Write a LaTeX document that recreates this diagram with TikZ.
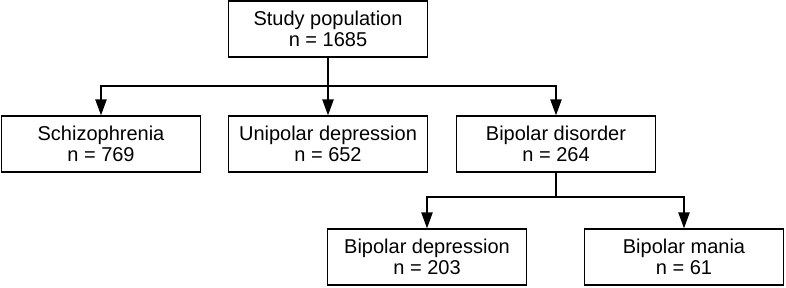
\documentclass[tikz,border=0pt]{standalone}
\usepackage{fontspec}
\setmainfont{Liberation Sans}
\usetikzlibrary{arrows.meta}
\begin{document}
\begin{tikzpicture}[x=0.75pt, y=-0.75pt, line width=1pt,
  box/.style={draw, align=center, minimum width=149pt, minimum height=42pt,
    inner sep=2pt, font=\fontsize{15}{16}\selectfont},
  arr/.style={-{Triangle[length=12pt, width=8.5pt]}}]
  \useasboundingbox (0,0) rectangle (786,287);
  \node[box] (study) at (328,29) {Study population\\n = 1685};
  \node[box] (schizo) at (101,144) {Schizophrenia\\n = 769};
  \node[box] (unipolar) at (328,144) {Unipolar depression\\n = 652};
  \node[box] (bipolar) at (556,144) {Bipolar disorder\\n = 264};
  \node[box] (bidep) at (427,257) {Bipolar depression\\n = 203};
  \node[box] (bimania) at (684,257) {Bipolar mania\\n = 61};
  % first split
  \coordinate (split) at (328,86);
  \draw (study) -- (split);
  \draw[arr] (split) -| (schizo.north);
  \draw[arr] (split) -- (unipolar);
  \draw[arr] (split) -| (bipolar.north);
  % second split
  \coordinate (splitb) at (556,197);
  \draw (bipolar) -- (splitb);
  \draw[arr] (splitb) -| (bidep.north);
  \draw[arr] (splitb) -| (bimania.north);
\end{tikzpicture}
\end{document}
